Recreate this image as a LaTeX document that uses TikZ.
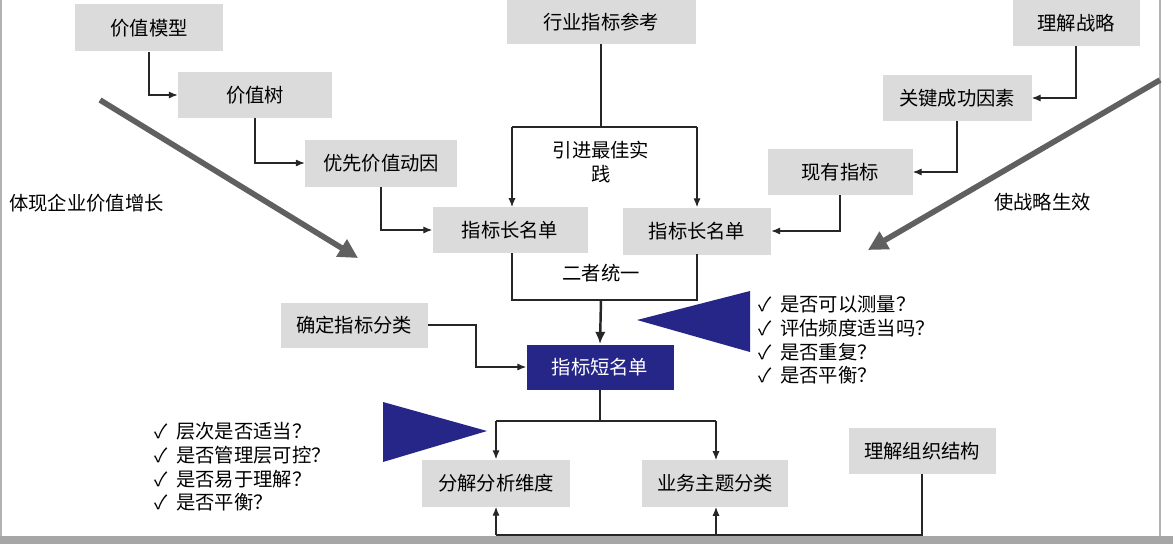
\documentclass[tikz,border=0pt]{standalone}
\usepackage{fontspec}
\setmainfont{Noto Sans CJK SC}
\begin{document}
\begin{tikzpicture}[x=0.02cm,y=-0.02cm,
 box/.style={fill=gray!28,inner sep=0pt,font=\fontsize{11}{13}\selectfont},
 ln/.style={draw=black!85,line width=0.6pt},
 ar/.style={ln,-{Latex[length=5pt,width=4pt]}},
 tri/.style={fill=blue!45!black!85,draw=none},
 lbl/.style={font=\fontsize{11}{13}\selectfont,align=left,anchor=west}]
\usetikzlibrary{arrows.meta}
\useasboundingbox (0,0) rectangle (1173,544);
\fill[white] (0,0) rectangle (1173,544);
\fill[gray!70] (0,536) rectangle (1173,544);
\draw[gray!60,line width=0.8pt] (1,0) -- (1,536);
\draw[gray!60,line width=0.8pt] (1160,0) -- (1160,536);
\node[box,minimum width=148*0.02cm,minimum height=47*0.02cm] (vm) at (149,28) {价值模型};
\node[box,minimum width=154*0.02cm,minimum height=46*0.02cm] (vt) at (255,95) {价值树};
\node[box,minimum width=152*0.02cm,minimum height=47*0.02cm] (pv) at (381,163) {优先价值动因};
\node[box,minimum width=189*0.02cm,minimum height=44*0.02cm] (hy) at (601,22) {行业指标参考};
\node[box,minimum width=127*0.02cm,minimum height=46*0.02cm] (lj) at (1076,23) {理解战略};
\node[box,minimum width=149*0.02cm,minimum height=46*0.02cm] (gj) at (957,98) {关键成功因素};
\node[box,minimum width=145*0.02cm,minimum height=46*0.02cm] (xy) at (840,172) {现有指标};
\node[box,minimum width=155*0.02cm,minimum height=46*0.02cm] (l1) at (510,230) {指标长名单};
\node[box,minimum width=148*0.02cm,minimum height=47*0.02cm] (l2) at (697,231) {指标长名单};
\node[box,minimum width=147*0.02cm,minimum height=45*0.02cm] (qd) at (354,325) {确定指标分类};
\node[box,fill=blue!45!black!85,text=white,minimum width=147*0.02cm,minimum height=45*0.02cm] (sl) at (600,367) {指标短名单};
\node[box,minimum width=147*0.02cm,minimum height=46*0.02cm] (zz) at (922,451) {理解组织结构};
\node[box,minimum width=148*0.02cm,minimum height=47*0.02cm] (fj) at (496,483) {分解分析维度};
\node[box,minimum width=146*0.02cm,minimum height=47*0.02cm] (yw) at (715,483) {业务主题分类};
% connectors
\draw[ar] (vm.south) |- (vt.west);
\draw[ar] (vt.south) |- (pv.west);
\draw[ar] (pv.south) |- (l1.west);
\draw[ln] (hy.south) -- (601,127);
\draw[ar] (512,127) -- (512,207);
\draw[ln] (512,127) -- (697,127);
\draw[ar] (697,127) -- (l2.north);
\node[font=\fontsize{11}{14}\selectfont,align=center] (yj) at (601,162) {引进最佳实\\践};
\draw[ar] (lj.south) |- (gj.east);
\draw[ar] (gj.south) |- (xy.east);
\draw[ar] (xy.south) |- (l2.east);
\draw[ln] (512,253) -- (512,300) -- (697,300) -- (697,254);
\node[font=\fontsize{11}{13}\selectfont] (ez) at (601,273) {二者统一};
\coordinate (mid) at (601,300);
\draw[ln,line width=1.4pt,-{Latex[length=7pt,width=6pt]}] (mid) -- (sl.north);
\draw[ar] (qd.east) -- (476,325) |- (sl.west);
\coordinate (sp) at (600,421);
\draw[ln] (sl.south) -- (sp);
\draw[ln] (496,421) -- (716,421);
\draw[ar] (496,421) -- (fj.north);
\draw[ar] (716,421) -- (716,460);
\draw[ln] (zz.south) -- (922,535) -- (496,535);
\draw[ar] (496,535) -- (fj.south);
\draw[ar] (716,535) -- (716,507);
% thick gray arrows
\coordinate (g1a) at (100,100); \coordinate (g1b) at (358,258);
\coordinate (g2a) at (1160,80); \coordinate (g2b) at (868,250);
\draw[gray!75!black,line width=3.2pt,-{Triangle[length=11pt,width=11pt]}] (g1a) -- (g1b);
\draw[gray!75!black,line width=3.2pt,-{Triangle[length=11pt,width=11pt]}] (g2a) -- (g2b);
\node[lbl] (t1) at (3,203) {体现企业价值增长};
\node[lbl] (t2) at (988,202) {使战略生效};
% triangles
\fill[tri] (637,320) -- (750,291) -- (750,352) -- cycle;
\fill[tri] (383,402) -- (383,462) -- (487,431) -- cycle;
\node[lbl,font=\fontsize{11}{13.5}\selectfont] (c1) at (752,340) {✓\ \ 是否可以测量？\\✓\ \ 评估频度适当吗？\\✓\ \ 是否重复？\\✓\ \ 是否平衡？};
\node[lbl,font=\fontsize{11}{13.5}\selectfont] (c2) at (148,467) {✓\ \ 层次是否适当？\\✓\ \ 是否管理层可控？\\✓\ \ 是否易于理解？\\✓\ \ 是否平衡？};
\end{tikzpicture}
\end{document}
